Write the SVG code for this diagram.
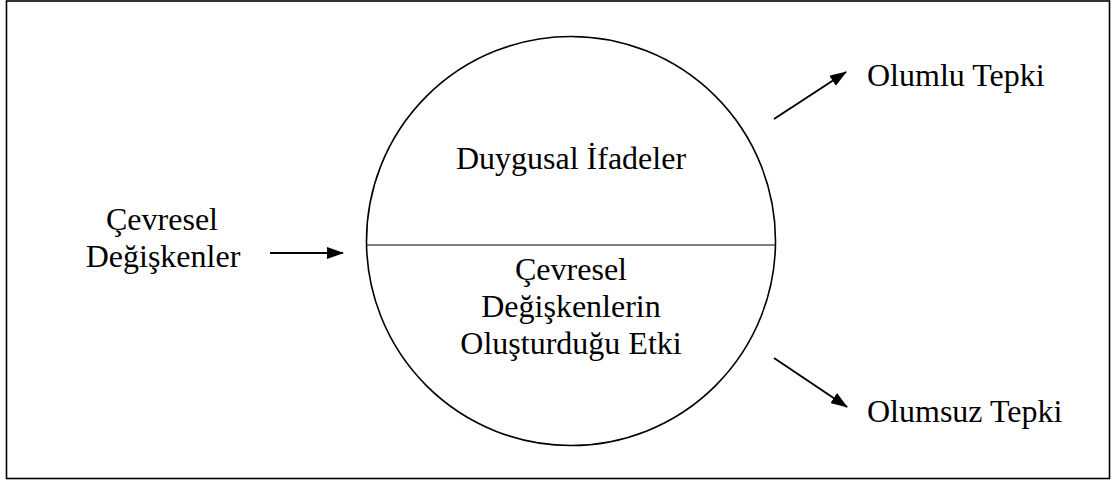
<svg xmlns="http://www.w3.org/2000/svg" width="1113" height="483" viewBox="0 0 1113 483">
<style>
text { font-family: "Liberation Serif", "Times New Roman", serif; font-size: 32px; fill: #000; }
.c { text-anchor: middle; }
.ln { stroke: #000; stroke-width: 2; fill: none; }
</style>
<defs>
<marker id="ah2" viewBox="0 0 17 12" refX="16" refY="6" markerWidth="17" markerHeight="12" markerUnits="userSpaceOnUse" orient="auto">
<path d="M0,0 L17,6 L0,12 z" fill="#000"/>
</marker>
</defs>
<rect x="6.5" y="1" width="1103" height="477.5" fill="#fff" stroke="#000" stroke-width="1.6"/>
<g id="center">
<circle cx="571" cy="241" r="204.5" fill="none" stroke="#000" stroke-width="1.6"/>
<line x1="367" y1="245" x2="775" y2="245" stroke="#000" stroke-width="1"/>
<text class="c" x="571" y="169">Duygusal İfadeler</text>
<text class="c" x="571" y="280">Çevresel</text>
<text class="c" x="571" y="317">Değişkenlerin</text>
<text class="c" x="571" y="354">Oluşturduğu Etki</text>
</g>
<g id="input">
<text class="c" x="162" y="230">Çevresel</text>
<text class="c" x="163" y="267">Değişkenler</text>
</g>
<g id="positive">
<text x="867" y="86">Olumlu Tepki</text>
</g>
<g id="negative">
<text x="867" y="422">Olumsuz Tepki</text>
</g>
<g id="connectors">
<line class="ln" x1="270" y1="253" x2="343" y2="253" marker-end="url(#ah2)"/>
<line class="ln" x1="774" y1="119" x2="846" y2="72" marker-end="url(#ah2)"/>
<line class="ln" x1="774" y1="358" x2="847" y2="407" marker-end="url(#ah2)"/>
</g>
</svg>
